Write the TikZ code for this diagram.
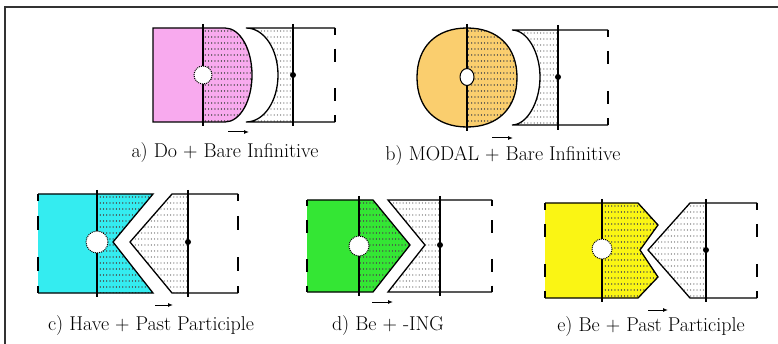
\documentclass[tikz,border=0pt]{standalone}
\usetikzlibrary{calc,arrows.meta}
\definecolor{cpink}{RGB}{248,170,238}
\definecolor{corange}{RGB}{250,206,110}
\definecolor{ccyan}{RGB}{52,236,240}
\definecolor{cgreen}{RGB}{52,230,52}
\definecolor{cyell}{RGB}{250,245,20}
\newcommand\dashedge[2]{\draw[outline] (#1) -- ($(#1)!0.07!(#2)$) ($(#1)!0.22!(#2)$) -- ($(#1)!0.36!(#2)$) ($(#1)!0.64!(#2)$) -- ($(#1)!0.78!(#2)$) ($(#1)!0.93!(#2)$) -- (#2);}
\newcommand\dotrows[3]{\foreach \yy in {#3} {\draw[dotline,#2] (#1-60,\yy) -- (#1+60,\yy);}}
\tikzset{
  outline/.style={line width=1.3pt, line join=miter},
  divider/.style={line width=1.2pt},
  dotline/.style={line width=1.3pt, line cap=round, dash pattern=on 0.01pt off 3.2pt},
  darkdots/.style={black!70},
  greydots/.style={black!40},
  hole/.style={fill=white, densely dotted, line width=1pt},
  movearrow/.style={line width=1pt, -{Latex[length=5pt,width=4pt]}},
  caption/.style={font=\fontsize{20}{24}\selectfont, inner sep=0pt, text=black}
}
\begin{document}
\begin{tikzpicture}[x=1pt,y=-1pt]
\useasboundingbox (0,0) rectangle (778,344);
\fill[white] (0,0) rectangle (778,344);
\draw[line width=1.5pt, black!80] (5,344) -- (5,7) -- (778,7);

% ---------- a) ----------
\fill[cpink] (153,28) -- (225,28) .. controls (240,28) and (252,49) .. (252,75) .. controls (252,101) and (240,122) .. (225,122) -- (153,122) -- cycle;
\begin{scope}
  \clip (203,20) rectangle (260,130);
  \clip (153,28) -- (225,28) .. controls (240,28) and (252,49) .. (252,75) .. controls (252,101) and (240,122) .. (225,122) -- (153,122) -- cycle;
  \dotrows{230}{darkdots}{31,37,...,121}
\end{scope}
\draw[outline] (153,28) -- (225,28) .. controls (240,28) and (252,49) .. (252,75) .. controls (252,101) and (240,122) .. (225,122) -- (153,122) -- cycle;
\draw[divider] (203,24) -- (203,126);
\draw[hole] (203,75) circle[radius=9];
\begin{scope}
  \clip (246,28) .. controls (264,28) and (278,49) .. (278,75) .. controls (278,101) and (264,122) .. (246,122) -- (293,122) -- (293,28) -- cycle;
  \dotrows{270}{greydots}{31,37,...,121}
\end{scope}
\draw[outline] (335,28) -- (246,28) .. controls (264,28) and (278,49) .. (278,75) .. controls (278,101) and (264,122) .. (246,122) -- (335,122);
\dashedge{335,28}{335,122}
\draw[divider] (293,24) -- (293,126);
\fill (293,75) circle[radius=3];
\draw[movearrow] (228,132) -- (249,132);
\node[caption] (capa) at (225,153) {a) Do + Bare Infinitive};

% ---------- b) ----------
\def\disc{(467,28) .. controls (498,28) and (517,47) .. (517,77.5) .. controls (517,108) and (498,127) .. (467,127) .. controls (436,127) and (417,108) .. (417,77.5) .. controls (417,47) and (436,28) .. (467,28) -- cycle}
\fill[corange] \disc;
\begin{scope}
  \clip (467,20) rectangle (530,135);
  \clip \disc;
  \dotrows{490}{darkdots}{31,37,...,127}
\end{scope}
\draw[outline] \disc;
\draw[divider] (467,24) -- (467,131);
\draw[fill=white, line width=1pt] (467,77) ellipse[x radius=7, y radius=8.5];
\begin{scope}
  \clip (512,30) .. controls (527,30) and (540,52) .. (540,77) .. controls (540,102) and (527,125) .. (512,125) -- (558,125) -- (558,30) -- cycle;
  \dotrows{530}{greydots}{33,39,...,125}
\end{scope}
\draw[outline] (608,30) -- (512,30) .. controls (527,30) and (540,52) .. (540,77) .. controls (540,102) and (527,125) .. (512,125) -- (608,125);
\dashedge{608,30}{608,125}
\draw[divider] (558,25) -- (558,130);
\fill (558,77) circle[radius=3];
\draw[movearrow] (492,138) -- (513,138);
\node[caption] (capb) at (503,156) {b) MODAL + Bare Infinitive};

% ---------- c) ----------
\fill[ccyan] (38,194) -- (153,194) -- (113,242) -- (153,293) -- (38,293) -- cycle;
\begin{scope}
  \clip (97,190) rectangle (160,300);
  \clip (38,194) -- (153,194) -- (113,242) -- (153,293) -- (38,293) -- cycle;
  \dotrows{125}{darkdots}{197,203,...,293}
\end{scope}
\draw[outline] (38,194) -- (153,194) -- (113,242) -- (153,293) -- (38,293);
\dashedge{38,194}{38,293}
\draw[divider] (97,190) -- (97,297);
\draw[hole] (97,242) circle[radius=11];
\begin{scope}
  \clip (172,194) -- (130,242) -- (172,293) -- (188,293) -- (188,194) -- cycle;
  \dotrows{160}{greydots}{197,203,...,293}
\end{scope}
\draw[outline] (238,194) -- (172,194) -- (130,242) -- (172,293) -- (238,293);
\dashedge{238,194}{238,293}
\draw[divider] (188,190) -- (188,297);
\fill (188,242) circle[radius=3];
\draw[movearrow] (155,305) -- (173,305);
\node[caption] (capc) at (151,326) {c) Have + Past Participle};

% ---------- d) ----------
\fill[cgreen] (307,200) -- (373,200) -- (410,245) -- (373,292) -- (307,292) -- cycle;
\begin{scope}
  \clip (359,195) rectangle (415,300);
  \clip (307,200) -- (373,200) -- (410,245) -- (373,292) -- (307,292) -- cycle;
  \dotrows{385}{darkdots}{203,209,...,292}
\end{scope}
\draw[outline] (307,200) -- (373,200) -- (410,245) -- (373,292) -- (307,292);
\dashedge{307,200}{307,292}
\draw[divider] (359,196) -- (359,296);
\draw[hole] (359,246) circle[radius=10];
\begin{scope}
  \clip (388,200) -- (425,245) -- (388,292) -- (440,292) -- (440,200) -- cycle;
  \dotrows{415}{greydots}{203,209,...,292}
\end{scope}
\draw[outline] (492,200) -- (388,200) -- (425,245) -- (388,292) -- (492,292);
\dashedge{492,200}{492,292}
\draw[divider] (440,196) -- (440,296);
\fill (440,245) circle[radius=3];
\draw[movearrow] (372,302) -- (393,302);
\node[caption] (capd) at (388,326) {d) Be + -ING};

% ---------- e) ----------
\fill[cyell] (545,203) -- (638,203) -- (658,225) -- (640,250) -- (658,277) -- (638,298) -- (545,298) -- cycle;
\begin{scope}
  \clip (602,198) rectangle (665,305);
  \clip (545,203) -- (638,203) -- (658,225) -- (640,250) -- (658,277) -- (638,298) -- (545,298) -- cycle;
  \dotrows{630}{darkdots}{206,212,...,298}
\end{scope}
\draw[outline] (545,203) -- (638,203) -- (658,225) -- (640,250) -- (658,277) -- (638,298) -- (545,298);
\dashedge{545,203}{545,298}
\draw[divider] (602,199) -- (602,302);
\draw[hole] (602,249) circle[radius=10];
\begin{scope}
  \clip (690,203) -- (648,250) -- (690,298) -- (706,298) -- (706,203) -- cycle;
  \dotrows{680}{greydots}{206,212,...,298}
\end{scope}
\draw[outline] (757,203) -- (690,203) -- (648,250) -- (690,298) -- (757,298);
\dashedge{757,203}{757,298}
\draw[divider] (706,199) -- (706,302);
\fill (706,250) circle[radius=3];
\draw[movearrow] (648,310) -- (668,310);
\node[caption] (cape) at (651,327) {e) Be + Past Participle};
\end{tikzpicture}
\end{document}
